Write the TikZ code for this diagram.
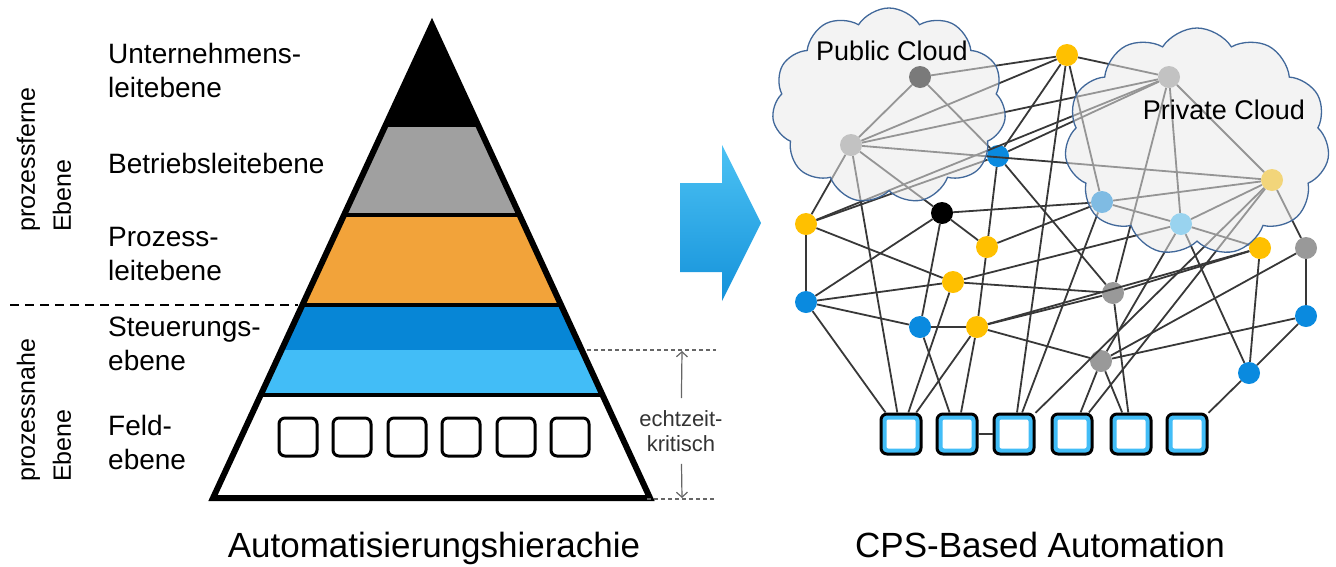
\documentclass[tikz,border=0pt]{standalone}
\usepackage{fontspec}
\setmainfont{Liberation Sans}
\usetikzlibrary{shapes.symbols,arrows.meta}

\definecolor{pyrgray}{HTML}{A0A0A0}
\definecolor{pyrorange}{HTML}{F2A33A}
\definecolor{pyrdblue}{HTML}{0786D6}
\definecolor{pyrlblue}{HTML}{42BDF7}
\definecolor{cpsyellow}{HTML}{FFC000}
\definecolor{cpsblue}{HTML}{0A8ADF}
\definecolor{cpsgray}{HTML}{999999}
\definecolor{cloudfill}{HTML}{E8E8E8}
\definecolor{cloudline}{HTML}{41689A}
\definecolor{edgegray}{HTML}{383838}
\definecolor{arrowtop}{HTML}{4CC2F4}
\definecolor{arrowbot}{HTML}{1592DA}

\begin{document}
\begin{tikzpicture}[x=1pt, y=-1pt,
	dot/.style={circle, inner sep=0pt, minimum size=22pt},
	ydot/.style={dot, fill=cpsyellow},
	bdot/.style={dot, fill=cpsblue},
	ldot/.style={dot, fill=pyrlblue},
	gdot/.style={dot, fill=cpsgray},
	kdot/.style={dot, fill=black},
	device/.style={rectangle, rounded corners=6pt, minimum size=40pt, inner sep=0pt, outer sep=1.5pt, fill=pyrlblue, draw=black, line width=3pt,
		path picture={\fill[white, rounded corners=2pt] ([shift={(5.5pt,-5.5pt)}]path picture bounding box.north west) rectangle ([shift={(-5.5pt,5.5pt)}]path picture bounding box.south east);}},
	fieldbox/.style={rectangle, rounded corners=6pt, minimum size=38pt, inner sep=0pt, fill=white, draw=black, line width=3pt},
	layer/.style={align=left, anchor=west, inner sep=0pt, font=\fontsize{28}{34}\selectfont},
	side/.style={rotate=90, align=left, anchor=west, inner sep=0pt, font=\fontsize{25}{36}\selectfont},
	cloudy/.style={cloud, cloud puffs=11, cloud puff arc=115, cloud ignores aspect, draw=cloudline, line width=1.3pt, fill=cloudfill, fill opacity=0.53},
	title/.style={anchor=base, inner sep=0pt, font=\fontsize{35}{40}\selectfont},
	every edge/.style={draw=edgegray, line width=1.8pt}]
	
	\useasboundingbox (0,0) rectangle (1336,566);
	
	% pyramid
	\begin{scope}
		\clip (432,25) -- (650,498) -- (213,498) -- cycle;
		\fill[black] (200,0) rectangle (660,127);
		\fill[pyrgray] (200,127) rectangle (660,215);
		\fill[pyrorange] (200,215) rectangle (660,305);
		\fill[pyrdblue] (200,305) rectangle (660,350);
		\fill[pyrlblue] (200,350) rectangle (660,395);
		\draw[line width=4pt] (200,215) -- (660,215);
		\draw[line width=4pt] (200,305) -- (660,305);
		\draw[line width=4pt] (200,395) -- (660,395);
	\end{scope}
	\draw[line width=6pt] (432,25) -- (650,498) -- (213,498) -- cycle;
	
	\node[fieldbox] (f1) at (298,437) {};
	\node[fieldbox] (f2) at (352,437) {};
	\node[fieldbox] (f3) at (407,437) {};
	\node[fieldbox] (f4) at (461,437) {};
	\node[fieldbox] (f5) at (516,437) {};
	\node[fieldbox] (f6) at (570,437) {};
	
	\node[layer] (l1) at (108,70) {Unternehmens-\\leitebene};
	\node[layer] (l2) at (108,163) {Betriebsleitebene};
	\node[layer] (l3) at (108,254) {Prozess-\\leitebene};
	\node[layer] (l4) at (108,344) {Steuerungs-\\ebene};
	\node[layer] (l5) at (108,442) {Feld-\\ebene};
	
	\node[side] (s1) at (44,232) {prozessferne\\Ebene};
	\node[side] (s2) at (44,482) {prozessnahe\\Ebene};
	
	\draw[line width=2pt, dash pattern=on 9pt off 6pt] (10,305) -- (298,305);
	\draw[line width=1.3pt, gray!80!black, dash pattern=on 4pt off 3pt] (587,350) -- (716,350);
	\draw[line width=1.3pt, gray!80!black, dash pattern=on 4pt off 3pt] (647,499) -- (716,499);
	
	\node[align=center, inner xsep=2pt, inner ysep=12pt, text=black!80, font=\fontsize{22}{25}\selectfont] (rt) at (681,431) {echtzeit-\\kritisch};
	\coordinate (rtop) at (682,351);
	\coordinate (rbot) at (682,498);
	\draw[line width=1.2pt, gray!80!black, -{Straight Barb[length=5pt,width=11pt]}] (rt) -- (rtop);
	\draw[line width=1.2pt, gray!80!black, -{Straight Barb[length=5pt,width=11pt]}] (rt) -- (rbot);
	
	% arrow
	\shade[top color=arrowtop, bottom color=arrowbot] (680,183) -- (722,183) -- (722,145) -- (761,223) -- (722,301) -- (722,272) -- (680,272) -- cycle;
	
	% network
	\node[kdot] (1) at (920,77) {};
	\node[gdot] (2) at (851,145) {};
	\node[ydot] (3) at (1067,55) {};
	\node[bdot] (4) at (998,156) {};
	\node[kdot] (5) at (942,213) {};
	\node[ydot] (6) at (806,224) {};
	\node[ydot] (7) at (987,247) {};
	\node[ydot] (8) at (953,282) {};
	\node[bdot] (9) at (806,302) {};
	\node[bdot] (10) at (920,327) {};
	\node[ydot] (11) at (977,327) {};
	\node[gdot] (12) at (1113,293) {};
	\node[gdot] (13) at (1101,361) {};
	\node[gdot] (14) at (1169,77) {};
	\node[bdot] (15) at (1102,202) {};
	\node[ldot] (16) at (1181,224) {};
	\node[ydot] (17) at (1272,180) {};
	\node[ydot] (18) at (1260,248) {};
	\node[gdot] (19) at (1306,248) {};
	\node[bdot] (20) at (1306,316) {};
	\node[bdot] (21) at (1249,373) {};
	\node[device] (22) at (901,434) {};
	\node[device] (23) at (957,434) {};
	\node[device] (24) at (1014,434) {};
	\node[device] (25) at (1072,434) {};
	\node[device] (26) at (1131,434) {};
	\node[device] (27) at (1187,434) {};
	
	\path (1) edge (2);
	\path (1) edge (3);
	\path (1) edge (4);
	\path (2) edge (3);
	\path (2) edge (14);
	\path (2) edge (17);
	\path (2) edge (5);
	\path (2) edge (6);
	\path (2) edge (22);
	\path (3) edge (4);
	\path (3) edge (14);
	\path (3) edge (15);
	\path (3) edge (24);
	\path (4) edge (6);
	\path (4) edge (7);
	\path (4) edge (12);
	\path (4) edge (14);
	\path (5) edge (7);
	\path (5) edge (9);
	\path (5) edge (10);
	\path (5) edge (15);
	\path (6) edge (8);
	\path (6) edge (9);
	\path (6) edge (14);
	\path (7) edge (11);
	\path (7) edge (15);
	\path (8) edge (9);
	\path (8) edge (12);
	\path (8) edge (16);
	\path (8) edge (22);
	\path (9) edge (10);
	\path (9) edge (22);
	\path (10) edge (11);
	\path (10) edge (23);
	\path (11) edge (12);
	\path (11) edge (13);
	\path (11) edge (18);
	\path (11) edge (22);
	\path (11) edge (23);
	\path (12) edge (14);
	\path (12) edge (18);
	\path (12) edge (26);
	\path (13) edge (16);
	\path (13) edge (19);
	\path (13) edge (20);
	\path (13) edge (25);
	\path (13) edge (26);
	\path (14) edge (16);
	\path (14) edge (17);
	\path (15) edge (16);
	\path (15) edge (17);
	\path (15) edge (24);
	\path (16) edge (17);
	\path (16) edge (18);
	\path (16) edge (21);
	\path (17) edge (19);
	\path (17) edge (24);
	\path (17) edge (25);
	\path (18) edge (21);
	\path (19) edge (20);
	\path (20) edge (21);
	\path (21) edge (27);
	\path (23) edge (24);
	
	% clouds
	\node[cloudy, minimum width=234pt, minimum height=196pt] (pub) at (889,106) {};
	\node[cloudy, minimum width=265pt, minimum height=228pt] (priv) at (1197,142) {};
	\node[font=\fontsize{27}{30}\selectfont] (publbl) at (892,51) {Public Cloud};
	\node[font=\fontsize{27}{30}\selectfont] (privlbl) at (1224,110) {Private Cloud};
	
	\node[title] (t1) at (434,557) {Automatisierungshierachie};
	\node[title] (t2) at (1040,557) {CPS-Based Automation};

\end{tikzpicture}
\end{document}
